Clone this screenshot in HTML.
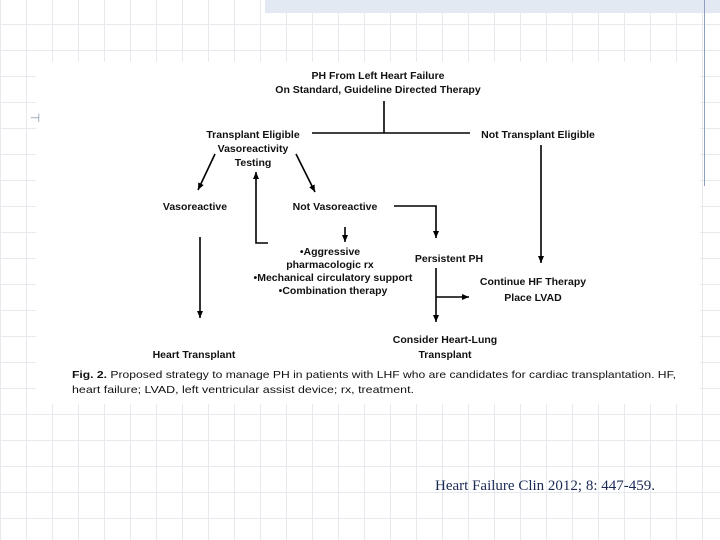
<!DOCTYPE html>
<html><head><style>
body{margin:0;width:720px;height:540px;overflow:hidden;background:#fff;
background-image:linear-gradient(#e6e9ee 1px,transparent 1px),linear-gradient(90deg,#e6e9ee 1px,transparent 1px);
background-size:26px 26px;background-position:0 -2px;font-family:"Liberation Sans",sans-serif;position:relative}
</style></head><body>
<div style="position:absolute;left:265px;top:0;width:455px;height:13px;background:#e3e9f2"></div>
<div style="position:absolute;left:704px;top:0;width:1px;height:186px;background:#8ea0c0"></div>
<div style="position:absolute;left:36px;top:62px;width:664px;height:342px;background:#fff"></div>
<svg width="720" height="540" style="position:absolute;left:0;top:0" font-family="Liberation Sans" font-weight="bold" font-size="10.5" text-anchor="middle">
<defs><marker id="a" markerWidth="8" markerHeight="8" refX="7" refY="4" orient="auto" markerUnits="userSpaceOnUse"><path d="M0,1 L7,4 L0,7z" fill="#000"/></marker></defs>
<g fill="#111">
<text x="378" y="79">PH From Left Heart Failure</text>
<text x="378" y="93">On Standard, Guideline Directed Therapy</text>
<text x="253" y="138">Transplant Eligible</text>
<text x="253" y="152">Vasoreactivity</text>
<text x="253" y="166">Testing</text>
<text x="538" y="138">Not Transplant Eligible</text>
<text x="195" y="210">Vasoreactive</text>
<text x="335" y="210">Not Vasoreactive</text>
<text x="330" y="255">•Aggressive</text>
<text x="330" y="268">pharmacologic rx</text>
<text x="333" y="281">•Mechanical circulatory support</text>
<text x="333" y="294">•Combination therapy</text>
<text x="449" y="262">Persistent PH</text>
<text x="533" y="285">Continue HF Therapy</text>
<text x="533" y="301">Place LVAD</text>
<text x="445" y="343">Consider Heart-Lung</text>
<text x="445" y="358">Transplant</text>
<text x="194" y="358">Heart Transplant</text>
</g>
<g stroke="#000" stroke-width="1.6" fill="none">
<path d="M384,101V133M312,133H470"/>
<path d="M541,145V263" marker-end="url(#a)"/>
<path d="M215,154L198,190" marker-end="url(#a)"/>
<path d="M296,154L315,192" marker-end="url(#a)"/>
<path d="M256,190V172" marker-end="url(#a)"/>
<path d="M256,190V243H268"/>
<path d="M200,237V318" marker-end="url(#a)"/>
<path d="M345,227V242" marker-end="url(#a)"/>
<path d="M394,206H436V238" marker-end="url(#a)"/>
<path d="M436,268V322" marker-end="url(#a)"/>
<path d="M436,297H469" marker-end="url(#a)"/>
</g>
<text x="72" y="378" font-size="10.5" text-anchor="start" font-weight="normal" fill="#111" textLength="604" lengthAdjust="spacingAndGlyphs"><tspan font-weight="bold">Fig. 2.</tspan> Proposed strategy to manage PH in patients with LHF who are candidates for cardiac transplantation. HF,</text>
<text x="72" y="393" font-size="10.5" text-anchor="start" font-weight="normal" fill="#111" textLength="342" lengthAdjust="spacingAndGlyphs">heart failure; LVAD, left ventricular assist device; rx, treatment.</text>
<text x="35" y="122" font-size="12" font-weight="normal" fill="#8899aa">⊣</text>
<text x="545" y="490" font-family="Liberation Serif" font-weight="normal" font-size="15" fill="#1a2a55">Heart Failure Clin 2012; 8: 447-459.</text>
</svg>
</body></html>
